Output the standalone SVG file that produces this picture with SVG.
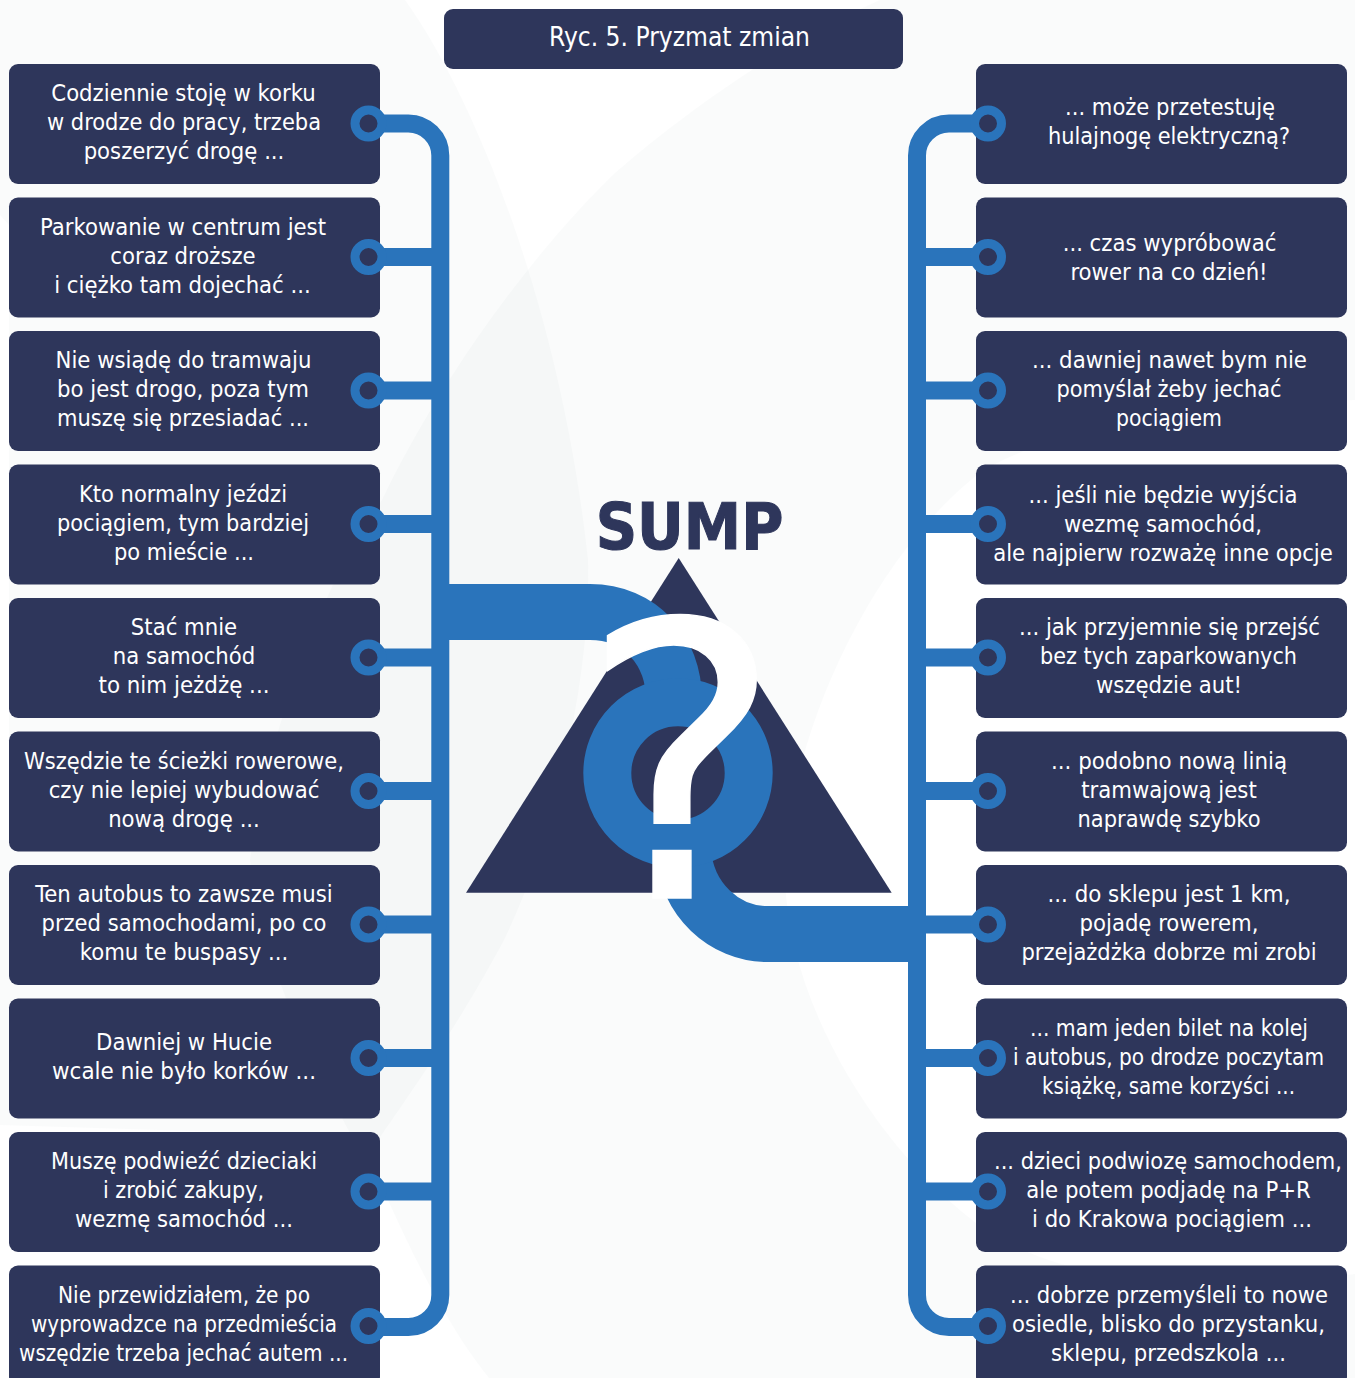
<svg xmlns="http://www.w3.org/2000/svg" width="1355" height="1378" viewBox="0 0 1355 1378">
<style>
.box{fill:#2e365b}
.t{font-family:"DejaVu Sans",sans-serif;font-stretch:condensed;font-size:23.6px;fill:#fff;text-anchor:middle}
.pipe{fill:none;stroke:#2a74bb;stroke-width:18}
.big{fill:none;stroke:#2a74bb;stroke-width:56}
.ring{fill:#2e365b;stroke:#2a74bb;stroke-width:9}
.bgs{fill:#8a9090;opacity:.04}
</style>
<rect width="1355" height="1378" fill="#fff"/>
<g id="background">
<path class="bgs" d="M0 0H405C470 90 560 300 588 560C592 700 540 880 493 960C460 1020 420 1080 380 1137L0 1125V840L9 840V225L0 215Z"/>
<path class="bgs" d="M880 0H1355V400C1200 405 1040 430 977 475C870 560 785 740 785 880C790 1010 880 1150 976 1223C1060 1285 1200 1295 1355 1274V1378H489C450 1330 415 1260 388 1200C300 1050 260 950 250 860C270 720 330 570 382 500C440 380 530 255 615 173C700 100 790 40 880 0Z"/>
</g>
<g id="connectors">
<path class="pipe" d="M368 123.5H408a32 32 0 0 1 32.300 32V1295a32 32 0 0 1 -32.300 32H368M368 257H440M368 390.500H440M368 524H440M368 657.500H440M368 791H440M368 924.500H440M368 1058H440M368 1191.500H440"/>
<path class="pipe" d="M988 123.500H949a32 32 0 0 0 -32 32V1295a32 32 0 0 0 32 32H988M988 257H917M988 390.500H917M988 524H917M988 657.500H917M988 791H917M988 924.500H917M988 1058H917M988 1191.500H917"/>
</g>
<g id="title"><rect class="box" x="444" y="9" width="459" height="60" rx="9"/><text class="t" style="font-size:26px" x="679.500" y="46" textLength="261" lengthAdjust="spacingAndGlyphs">Ryc. 5. Pryzmat zmian</text></g>
<g id="sump-logo">
<path class="box" d="M678.700 558L891.700 892.700H466Z"/>
<path class="big" d="M449 612H590C640 612 674 650 674 700"/>
<path class="big" d="M908 934H767C725 934 686 900 683 850"/>
<circle cx="678" cy="773" r="70.700" fill="#2e365b" stroke="#2a74bb" stroke-width="48"/>
<text x="681.500" y="898" font-family="DejaVu Sans,sans-serif" font-size="382" fill="#fff" stroke="#fff" stroke-width="1.500" text-anchor="middle">?</text>
<text x="689.500" y="549" font-family="DejaVu Sans,sans-serif" font-size="64" font-weight="700" style="font-stretch:condensed" fill="#2e365b" stroke="#2e365b" stroke-width="1" text-anchor="middle">SUMP</text>
</g>
<g id="l1"><rect class="box" x="9" y="64" width="371" height="120" rx="9"/><text class="t" x="183.500" y="101">Codziennie stoję w korku</text><text class="t" x="184" y="130" textLength="274" lengthAdjust="spacingAndGlyphs">w drodze do pracy, trzeba</text><text class="t" x="184" y="159">poszerzyć drogę ...</text></g>
<g id="l2"><rect class="box" x="9" y="197.500" width="371" height="120" rx="9"/><text class="t" x="183" y="235">Parkowanie w centrum jest</text><text class="t" x="183" y="264">coraz droższe</text><text class="t" x="182.500" y="293">i ciężko tam dojechać ...</text></g>
<g id="l3"><rect class="box" x="9" y="331" width="371" height="120" rx="9"/><text class="t" x="183.500" y="368">Nie wsiądę do tramwaju</text><text class="t" x="183" y="397">bo jest drogo, poza tym</text><text class="t" x="183" y="426" textLength="252" lengthAdjust="spacingAndGlyphs">muszę się przesiadać ...</text></g>
<g id="l4"><rect class="box" x="9" y="464.500" width="371" height="120" rx="9"/><text class="t" x="183" y="502" textLength="208" lengthAdjust="spacingAndGlyphs">Kto normalny jeździ</text><text class="t" x="183" y="531" textLength="252" lengthAdjust="spacingAndGlyphs">pociągiem, tym bardziej</text><text class="t" x="184" y="560" textLength="140" lengthAdjust="spacingAndGlyphs">po mieście ...</text></g>
<g id="l5"><rect class="box" x="9" y="598" width="371" height="120" rx="9"/><text class="t" x="184" y="635">Stać mnie</text><text class="t" x="184" y="664">na samochód</text><text class="t" x="184" y="693" textLength="171" lengthAdjust="spacingAndGlyphs">to nim jeżdżę ...</text></g>
<g id="l6"><rect class="box" x="9" y="731.500" width="371" height="120" rx="9"/><text class="t" x="184" y="769" textLength="320" lengthAdjust="spacingAndGlyphs">Wszędzie te ścieżki rowerowe,</text><text class="t" x="184" y="798">czy nie lepiej wybudować</text><text class="t" x="184" y="827">nową drogę ...</text></g>
<g id="l7"><rect class="box" x="9" y="865" width="371" height="120" rx="9"/><text class="t" x="184" y="902">Ten autobus to zawsze musi</text><text class="t" x="184" y="931" textLength="285" lengthAdjust="spacingAndGlyphs">przed samochodami, po co</text><text class="t" x="184" y="960">komu te buspasy ...</text></g>
<g id="l8"><rect class="box" x="9" y="998.500" width="371" height="120" rx="9"/><text class="t" x="184" y="1050">Dawniej w Hucie</text><text class="t" x="184" y="1079" textLength="264" lengthAdjust="spacingAndGlyphs">wcale nie było korków ...</text></g>
<g id="l9"><rect class="box" x="9" y="1132" width="371" height="120" rx="9"/><text class="t" x="184" y="1169" textLength="266" lengthAdjust="spacingAndGlyphs">Muszę podwieźć dzieciaki</text><text class="t" x="183.500" y="1198" textLength="161" lengthAdjust="spacingAndGlyphs">i zrobić zakupy,</text><text class="t" x="184" y="1227" textLength="218" lengthAdjust="spacingAndGlyphs">wezmę samochód ...</text></g>
<g id="l10"><rect class="box" x="9" y="1265.500" width="371" height="120" rx="9"/><text class="t" x="184" y="1303" textLength="252" lengthAdjust="spacingAndGlyphs">Nie przewidziałem, że po</text><text class="t" x="184" y="1332" textLength="306" lengthAdjust="spacingAndGlyphs">wyprowadzce na przedmieścia</text><text class="t" x="183.500" y="1361" textLength="329" lengthAdjust="spacingAndGlyphs">wszędzie trzeba jechać autem ...</text></g>
<g id="r1"><rect class="box" x="976" y="64" width="371" height="120" rx="9"/><text class="t" x="1170" y="115" textLength="210" lengthAdjust="spacingAndGlyphs">... może przetestuję</text><text class="t" x="1169" y="144" textLength="242" lengthAdjust="spacingAndGlyphs">hulajnogę elektryczną?</text></g>
<g id="r2"><rect class="box" x="976" y="197.500" width="371" height="120" rx="9"/><text class="t" x="1169.500" y="251">... czas wypróbować</text><text class="t" x="1169" y="280">rower na co dzień!</text></g>
<g id="r3"><rect class="box" x="976" y="331" width="371" height="120" rx="9"/><text class="t" x="1169.500" y="368" textLength="275" lengthAdjust="spacingAndGlyphs">... dawniej nawet bym nie</text><text class="t" x="1169" y="397" textLength="225" lengthAdjust="spacingAndGlyphs">pomyślał żeby jechać</text><text class="t" x="1169" y="426" textLength="106" lengthAdjust="spacingAndGlyphs">pociągiem</text></g>
<g id="r4"><rect class="box" x="976" y="464.500" width="371" height="120" rx="9"/><text class="t" x="1163" y="503">... jeśli nie będzie wyjścia</text><text class="t" x="1163" y="532">wezmę samochód,</text><text class="t" x="1163" y="561">ale najpierw rozważę inne opcje</text></g>
<g id="r5"><rect class="box" x="976" y="598" width="371" height="120" rx="9"/><text class="t" x="1169.500" y="635" textLength="301" lengthAdjust="spacingAndGlyphs">... jak przyjemnie się przejść</text><text class="t" x="1168.500" y="664" textLength="257" lengthAdjust="spacingAndGlyphs">bez tych zaparkowanych</text><text class="t" x="1169" y="693">wszędzie aut!</text></g>
<g id="r6"><rect class="box" x="976" y="731.500" width="371" height="120" rx="9"/><text class="t" x="1169" y="769" textLength="236" lengthAdjust="spacingAndGlyphs">... podobno nową linią</text><text class="t" x="1169" y="798">tramwajową jest</text><text class="t" x="1169" y="827" textLength="183" lengthAdjust="spacingAndGlyphs">naprawdę szybko</text></g>
<g id="r7"><rect class="box" x="976" y="865" width="371" height="120" rx="9"/><text class="t" x="1169" y="902" textLength="243" lengthAdjust="spacingAndGlyphs">... do sklepu jest 1 km,</text><text class="t" x="1169" y="931">pojadę rowerem,</text><text class="t" x="1169" y="960" textLength="295" lengthAdjust="spacingAndGlyphs">przejażdżka dobrze mi zrobi</text></g>
<g id="r8"><rect class="box" x="976" y="998.500" width="371" height="120" rx="9"/><text class="t" x="1169" y="1036" textLength="278" lengthAdjust="spacingAndGlyphs">... mam jeden bilet na kolej</text><text class="t" x="1168.500" y="1065" textLength="311" lengthAdjust="spacingAndGlyphs">i autobus, po drodze poczytam</text><text class="t" x="1168.500" y="1094" textLength="253" lengthAdjust="spacingAndGlyphs">książkę, same korzyści ...</text></g>
<g id="r9"><rect class="box" x="976" y="1132" width="371" height="120" rx="9"/><text class="t" x="1168" y="1169" textLength="348" lengthAdjust="spacingAndGlyphs">... dzieci podwiozę samochodem,</text><text class="t" x="1168.500" y="1198">ale potem podjadę na P+R</text><text class="t" x="1172" y="1227" textLength="280" lengthAdjust="spacingAndGlyphs">i do Krakowa pociągiem ...</text></g>
<g id="r10"><rect class="box" x="976" y="1265.500" width="371" height="120" rx="9"/><text class="t" x="1169" y="1303" textLength="318" lengthAdjust="spacingAndGlyphs">... dobrze przemyśleli to nowe</text><text class="t" x="1168.500" y="1332">osiedle, blisko do przystanku,</text><text class="t" x="1168.500" y="1361" textLength="235" lengthAdjust="spacingAndGlyphs">sklepu, przedszkola ...</text></g>
<g id="connector-ends">
<g id="left-rings"><circle class="ring" cx="368.500" cy="123.500" r="13.500"/><circle class="ring" cx="368.500" cy="257" r="13.500"/><circle class="ring" cx="368.500" cy="390.500" r="13.500"/><circle class="ring" cx="368.500" cy="524" r="13.500"/><circle class="ring" cx="368.500" cy="657.500" r="13.500"/><circle class="ring" cx="368.500" cy="791" r="13.500"/><circle class="ring" cx="368.500" cy="924.500" r="13.500"/><circle class="ring" cx="368.500" cy="1058" r="13.500"/><circle class="ring" cx="368.500" cy="1191.500" r="13.500"/><circle class="ring" cx="368.500" cy="1326" r="13.500"/></g>
<g id="right-rings"><circle class="ring" cx="988" cy="123.500" r="13.500"/><circle class="ring" cx="988" cy="257" r="13.500"/><circle class="ring" cx="988" cy="390.500" r="13.500"/><circle class="ring" cx="988" cy="524" r="13.500"/><circle class="ring" cx="988" cy="657.500" r="13.500"/><circle class="ring" cx="988" cy="791" r="13.500"/><circle class="ring" cx="988" cy="924.500" r="13.500"/><circle class="ring" cx="988" cy="1058" r="13.500"/><circle class="ring" cx="988" cy="1191.500" r="13.500"/><circle class="ring" cx="988" cy="1326" r="13.500"/></g>
</g>
</svg>
